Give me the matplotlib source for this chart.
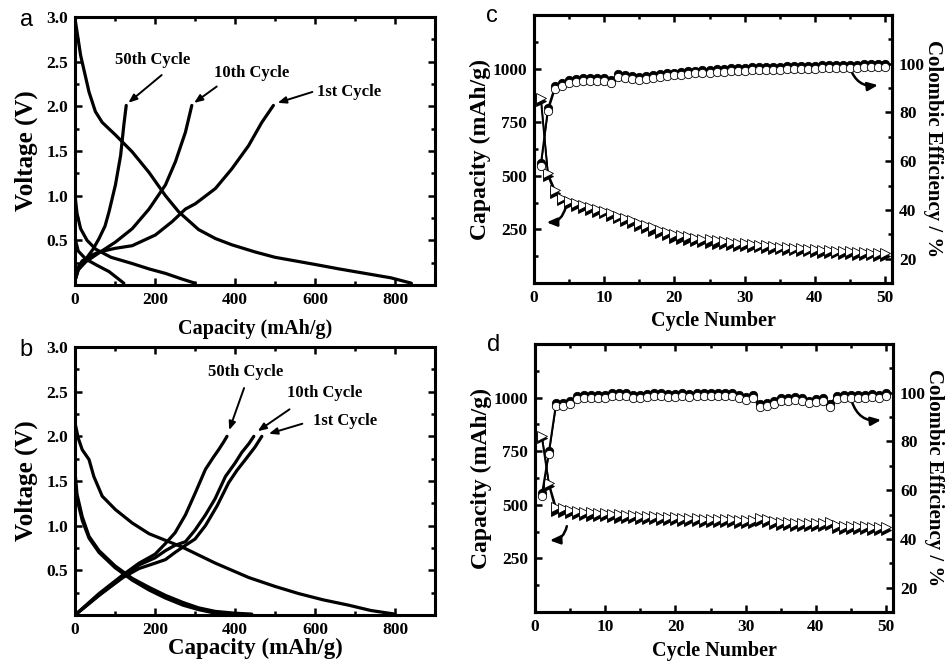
import numpy as np
import matplotlib
matplotlib.use("Agg")
import matplotlib.pyplot as plt
from matplotlib.ticker import MultipleLocator

plt.rcParams['font.family'] = ['Liberation Serif', 'DejaVu Serif']
plt.rcParams['font.weight'] = 'bold'

# ---------------- panel a : voltage profiles (sample 1)
a_dis1_x = [0, 14, 35, 51, 68, 101, 143, 185, 226, 259, 309, 351, 392, 450, 500, 550, 600, 660, 725, 790, 841]
a_dis1_y = [2.98, 2.57, 2.16, 1.94, 1.82, 1.68, 1.49, 1.26, 1.00, 0.82, 0.62, 0.52, 0.45, 0.37, 0.31, 0.27, 0.23, 0.18, 0.13, 0.08, 0.02]
a_chg1_x = [0, 5, 18, 40, 60, 100, 143, 201, 243, 276, 301, 351, 392, 434, 467, 496]
a_chg1_y = [0.05, 0.18, 0.27, 0.33, 0.37, 0.41, 0.44, 0.56, 0.71, 0.85, 0.91, 1.08, 1.30, 1.56, 1.82, 2.01]
a_dis10_x = [0, 5, 14, 30, 52, 90, 143, 185, 226, 265, 300]
a_dis10_y = [1.00, 0.80, 0.63, 0.50, 0.40, 0.31, 0.24, 0.18, 0.13, 0.07, 0.02]
a_chg10_x = [0, 8, 27, 60, 101, 143, 185, 226, 251, 276, 292]
a_chg10_y = [0.05, 0.17, 0.26, 0.36, 0.48, 0.63, 0.85, 1.12, 1.38, 1.71, 2.01]
a_dis50_x = [0, 8, 27, 55, 85, 105, 122]
a_dis50_y = [0.52, 0.38, 0.29, 0.22, 0.15, 0.08, 0.02]
a_chg50_x = [0, 8, 27, 45, 60, 75, 85, 101, 114, 122, 128]
a_chg50_y = [0.05, 0.17, 0.29, 0.40, 0.52, 0.66, 0.82, 1.12, 1.45, 1.79, 2.01]

# ---------------- panel b : voltage profiles (sample 2)
b_dis1_x = [0, 8, 18, 35, 47, 68, 101, 143, 185, 268, 351, 434, 500, 559, 620, 684, 740, 800]
b_dis1_y = [2.15, 1.98, 1.85, 1.74, 1.55, 1.33, 1.18, 1.03, 0.91, 0.76, 0.58, 0.42, 0.32, 0.24, 0.17, 0.11, 0.05, 0.01]
b_dis10_x = [0, 5, 18, 35, 60, 100, 143, 185, 226, 270, 309, 351, 400, 442]
b_dis10_y = [1.60, 1.35, 1.10, 0.88, 0.72, 0.55, 0.41, 0.31, 0.22, 0.14, 0.08, 0.04, 0.02, 0.01]
b_dis50_x = [0, 5, 18, 35, 60, 100, 143, 185, 226, 270, 309, 351, 384]
b_dis50_y = [1.50, 1.30, 1.06, 0.86, 0.70, 0.53, 0.39, 0.28, 0.19, 0.11, 0.06, 0.02, 0.01]
b_chg1_x = [0, 60, 120, 160, 200, 226, 250, 276, 300, 326, 355, 384, 405, 426, 450, 467]
b_chg1_y = [0.0, 0.22, 0.42, 0.52, 0.58, 0.62, 0.70, 0.78, 0.85, 1.00, 1.22, 1.48, 1.62, 1.74, 1.88, 2.00]
b_chg10_x = [0, 60, 120, 160, 200, 226, 250, 276, 300, 326, 350, 376, 400, 417, 435, 447]
b_chg10_y = [0.0, 0.22, 0.43, 0.56, 0.64, 0.72, 0.78, 0.82, 0.95, 1.12, 1.30, 1.55, 1.70, 1.82, 1.92, 2.00]
b_chg50_x = [0, 60, 120, 160, 200, 226, 250, 276, 300, 326, 345, 359, 372, 380]
b_chg50_y = [0.0, 0.24, 0.45, 0.58, 0.68, 0.80, 0.92, 1.12, 1.36, 1.63, 1.76, 1.85, 1.94, 2.00]

# ---------------- panels c / d : cycling
cycles = np.arange(1, 51)

c_dis = [850, 500, 420, 385, 370, 360, 350, 340, 333, 325, 313, 301, 290, 278, 266, 255, 244, 233, 222, 212,
         207, 202, 197, 192, 188, 184, 180, 177, 174, 172, 169, 166, 163, 160, 157, 154, 152, 150, 147, 144,
         142, 140, 138, 136, 134, 132, 130, 129, 127, 125]
c_chg = [862, 512, 434, 398, 383, 373, 363, 353, 346, 338, 326, 314, 303, 292, 281, 270, 259, 248, 238, 228,
         222, 217, 212, 207, 203, 199, 195, 191, 188, 185, 182, 179, 176, 173, 170, 167, 165, 163, 160, 157,
         155, 153, 151, 149, 147, 145, 143, 142, 141, 140]
c_ce_lo = [58.0, 80.5, 89.5, 90.8, 92.0, 92.6, 93.0, 93.0, 92.8, 92.8, 92.0, 94.5, 94.0, 93.6, 93.5, 93.6, 94.0, 94.4, 94.8, 95.2,
           95.5, 95.8, 96.0, 96.2, 96.4, 96.6, 96.8, 97.0, 97.0, 97.2, 97.3, 97.4, 97.5, 97.6, 97.6, 97.7, 97.8, 97.9, 97.9, 98.0,
           98.1, 98.2, 98.2, 98.3, 98.3, 98.4, 98.5, 98.6, 98.7, 98.8]
c_ce_hi = [59.2, 81.7, 90.7, 92.0, 93.2, 93.8, 94.2, 94.2, 94.0, 94.0, 93.2, 95.7, 95.2, 94.8, 94.7, 94.8, 95.2, 95.6, 96.0, 96.4,
           96.7, 97.0, 97.2, 97.4, 97.6, 97.8, 98.0, 98.2, 98.2, 98.4, 98.5, 98.6, 98.7, 98.8, 98.8, 98.9, 99.0, 99.1, 99.1, 99.2,
           99.3, 99.4, 99.4, 99.5, 99.5, 99.6, 99.7, 99.8, 99.9, 100.0]

d_dis = [810, 590, 470, 468, 462, 456, 452, 450, 448, 446, 444, 440, 438, 438, 436, 434, 432, 430, 430, 428,
         426, 425, 424, 422, 420, 420, 418, 418, 416, 415, 414, 425, 420, 410, 405, 404, 402, 402, 400, 400,
         400, 408, 390, 389, 388, 386, 385, 384, 383, 381]
d_chg = [820, 600, 490, 485, 478, 472, 468, 465, 462, 460, 458, 455, 453, 452, 450, 448, 446, 445, 444, 442,
         440, 439, 438, 436, 435, 434, 433, 432, 431, 430, 429, 440, 435, 425, 420, 418, 417, 416, 415, 414,
         414, 422, 404, 403, 402, 400, 399, 398, 397, 395]
d_ce_lo = [57.5, 75.0, 94.5, 94.5, 95.5, 97.5, 97.8, 97.8, 98.0, 98.0, 98.5, 98.7, 98.5, 98.0, 98.0, 98.3, 98.5, 98.5, 98.4, 98.4,
           98.5, 98.4, 98.6, 98.6, 98.6, 98.7, 98.6, 98.5, 98.0, 97.0, 98.0, 94.0, 94.5, 95.5, 96.8, 96.5, 97.0, 96.5, 95.6, 96.2,
           96.8, 94.2, 97.5, 98.0, 98.0, 98.0, 98.0, 98.2, 98.0, 98.8]
d_ce_hi = [58.7, 76.2, 95.7, 95.7, 96.7, 98.7, 99.0, 99.0, 99.2, 99.2, 99.7, 99.9, 99.7, 99.2, 99.2, 99.5, 99.7, 99.7, 99.6, 99.6,
           99.7, 99.6, 99.8, 99.8, 99.8, 99.9, 99.8, 99.7, 99.2, 98.2, 99.2, 95.2, 95.7, 96.7, 98.0, 97.7, 98.2, 97.7, 96.8, 97.4,
           98.0, 95.4, 98.7, 99.2, 99.2, 99.2, 99.2, 99.4, 99.2, 100.0]

fig = plt.figure(figsize=(9.51, 6.64), dpi=100)


def style(ax, right=True):
    for s in ax.spines.values():
        s.set_linewidth(2.2)
    ax.tick_params(which='both', direction='in', top=True, right=right, width=1.8, labelsize=12.5, pad=5)
    ax.tick_params(which='major', length=5)
    ax.tick_params(which='minor', length=3)


def voltage_panel(rect, curves, notes, letter, xlab_size, xlab_pad):
    ax = fig.add_axes(rect)
    for x, y in curves:
        ax.plot(x, y, color='black', lw=2.3, solid_joinstyle='round', solid_capstyle='round')
    ax.set_xlim(0, 900)
    ax.set_ylim(0, 3.0)
    ax.set_xticks([0, 200, 400, 600, 800])
    ax.set_yticks([0.5, 1.0, 1.5, 2.0, 2.5, 3.0])
    ax.xaxis.set_minor_locator(MultipleLocator(100))
    ax.yaxis.set_minor_locator(MultipleLocator(0.25))
    style(ax)
    ax.set_ylabel('Voltage (V)', fontsize=18, fontweight='bold', labelpad=6)
    ax.set_xlabel('Capacity (mAh/g)', fontsize=xlab_size, fontweight='bold', labelpad=xlab_pad)
    for txt, tpos, ha, start, end in notes:
        ax.text(tpos[0], tpos[1], txt, fontsize=12, fontweight='bold', ha=ha, va='center')
        ax.annotate('', xy=end, xytext=start,
                    arrowprops=dict(arrowstyle='-|>,head_length=0.5,head_width=0.2', color='black', lw=1.4))
    fig.text(rect[0] - 0.058, rect[1] + rect[3] - 0.005, letter, fontsize=17,
             family='Liberation Sans', fontweight='normal', va='center')
    return ax


voltage_panel([0.0789, 0.5708, 0.3785, 0.4036],
              [(a_dis1_x, a_dis1_y), (a_chg1_x, a_chg1_y), (a_dis10_x, a_dis10_y),
               (a_chg10_x, a_chg10_y), (a_dis50_x, a_dis50_y), (a_chg50_x, a_chg50_y)],
              [('50th Cycle', (195, 2.52), 'center', (222, 2.37), (128, 2.02)),
               ('10th Cycle', (442, 2.37), 'center', (360, 2.24), (292, 2.02)),
               ('1st Cycle', (605, 2.16), 'left', (600, 2.17), (500, 2.03))],
              'a', 14.5, 8)

voltage_panel([0.0789, 0.0738, 0.3785, 0.4036],
              [(b_dis1_x, b_dis1_y), (b_dis10_x, b_dis10_y), (b_dis50_x, b_dis50_y),
               (b_chg1_x, b_chg1_y), (b_chg10_x, b_chg10_y), (b_chg50_x, b_chg50_y)],
              [('50th Cycle', (426, 2.72), 'center', (425, 2.57), (383, 2.04)),
               ('10th Cycle', (624, 2.48), 'center', (542, 2.32), (451, 2.04)),
               ('1st Cycle', (596, 2.17), 'left', (575, 2.15), (478, 2.02))],
              'b', 16.5, 0)


def cycle_panel(rect, dis, chg, ce_hi, ce_lo, letter, r_arrow, l_arrow):
    ax = fig.add_axes(rect)
    ax2 = ax.twinx()
    ax.plot(cycles, dis, color='black', lw=1.4, marker='>', ms=6.5, mfc='black', mec='black', mew=0.6, zorder=3)
    ax.plot(cycles, chg, color='black', lw=1.0, marker='>', ms=6.5, mfc='white', mec='black', mew=0.6, zorder=4)
    ax2.plot(cycles, ce_hi, color='black', lw=1.4, marker='o', ms=6, mfc='black', mec='black', mew=0.6, zorder=3)
    ax2.plot(cycles, ce_lo, color='black', lw=1.0, marker='o', ms=6, mfc='white', mec='black', mew=0.6, zorder=4)
    ax.set_xlim(0, 51)
    ax.set_ylim(0, 1250)
    ax2.set_ylim(10, 120)
    ax.set_xticks([0, 10, 20, 30, 40, 50])
    ax.set_yticks([250, 500, 750, 1000])
    ax2.set_yticks([20, 40, 60, 80, 100])
    ax.xaxis.set_minor_locator(MultipleLocator(5))
    ax.yaxis.set_minor_locator(MultipleLocator(125))
    ax2.yaxis.set_minor_locator(MultipleLocator(10))
    style(ax, right=False)
    style(ax2)
    ax2.tick_params(which='both', left=False, top=False)
    ax.set_xlabel('Cycle Number', fontsize=14.5, fontweight='bold', labelpad=4)
    ax.set_ylabel('Capacity (mAh/g)', fontsize=17, fontweight='bold', labelpad=1)
    ax2.set_ylabel('Colombic Efficiency / %', fontsize=15, fontweight='bold', rotation=270, labelpad=13)
    ax2.annotate('', xy=r_arrow[1], xytext=r_arrow[0],
                 arrowprops=dict(arrowstyle='-|>,head_length=0.6,head_width=0.25', color='black', lw=1.8,
                                 connectionstyle='arc3,rad=0.45'))
    ax.annotate('', xy=l_arrow[1], xytext=l_arrow[0],
                arrowprops=dict(arrowstyle='-|>,head_length=0.6,head_width=0.25', color='black', lw=1.8,
                                connectionstyle='arc3,rad=-0.45'))
    fig.text(rect[0] - 0.05, rect[1] + rect[3] - 0.002, letter, fontsize=17,
             family='Liberation Sans', fontweight='normal', va='center')


cycle_panel([0.5615, 0.5738, 0.3765, 0.4036], c_dis, c_chg, c_ce_hi, c_ce_lo, 'c',
            ((44.9, 99.3), (49.4, 91.4)), ((4.6, 367), (1.4, 283)))
cycle_panel([0.5626, 0.0783, 0.3765, 0.4036], d_dis, d_chg, d_ce_hi, d_ce_lo, 'd',
            ((45.0, 97.5), (49.7, 89.0)), ((4.6, 413), (1.7, 334)))

fig.savefig('out.png', dpi=100)
